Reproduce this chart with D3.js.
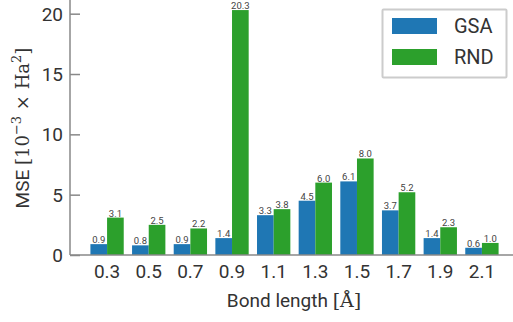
<!DOCTYPE html>
<html>
<head>
<meta charset="utf-8">
<script src="https://cdn.jsdelivr.net/npm/d3@7"></script>
<style>
  body { margin: 0; background: #fff; }
  svg { display: block; }
  .sans { font-family: Roboto, "DejaVu Sans", sans-serif; }
  .serif { font-family: "DejaVu Serif", serif; }
</style>
</head>
<body>
<div id="chart"></div>
<script>
const width = 513;
const height = 322;

// data
const bondLengths = ["0.3", "0.5", "0.7", "0.9", "1.1", "1.3", "1.5", "1.7", "1.9", "2.1"];
const gsa = [0.9, 0.8, 0.9, 1.4, 3.3, 4.5, 6.1, 3.7, 1.4, 0.6];
const rnd = [3.1, 2.5, 2.2, 20.3, 3.8, 6.0, 8.0, 5.2, 2.3, 1.0];
const yTicks = [0, 5, 10, 15, 20];
const seriesNames = ["GSA", "RND"];
const colors = ["#1f77b4", "#2ca02c"];

const svg = d3.select("#chart").append("svg")
    .attr("width", width)
    .attr("height", height);

const x = d3.scaleLinear().domain([-0.89, 9.89]).range([70, 519]);
const y = d3.scaleLinear().domain([0, 21.3]).range([255, -2]);
const barW = 0.4;
const axisColor = "#888";

// bars
const series = [gsa, rnd];
series.forEach((vals, s) => {
    const g = svg.append("g");
    const off = s === 0 ? -barW : 0;
    g.selectAll("rect")
        .data(vals)
        .join("rect")
        .attr("x", (d, i) => x(i + off))
        .attr("width", x(barW) - x(0))
        .attr("y", d => y(d))
        .attr("height", d => y(0) - y(d))
        .attr("fill", colors[s]);
    g.selectAll("text")
        .data(vals)
        .join("text")
        .attr("class", "sans")
        .attr("x", (d, i) => x(i + off + barW / 2))
        .attr("y", d => y(d) - 1)
        .attr("text-anchor", "middle")
        .attr("font-size", 9.5)
        .attr("fill", "#444")
        .text(d => d.toFixed(1));
});

// y axis
const yAxis = svg.append("g")
    .attr("transform", `translate(${x.range()[0]},0)`)
    .call(d3.axisRight(y).tickValues(yTicks).tickSize(10).tickFormat(""));
yAxis.select(".domain").attr("stroke", axisColor).attr("stroke-width", 1.5)
    .attr("d", `M0,${y(0)}V${-2}`);
yAxis.selectAll(".tick line").attr("stroke", axisColor).attr("stroke-width", 1.5);

svg.append("g").selectAll("text")
    .data(yTicks)
    .join("text")
    .attr("class", "sans")
    .attr("x", 63)
    .attr("y", d => y(d) + 7)
    .attr("text-anchor", "end")
    .attr("font-size", 19)
    .attr("fill", "#333")
    .text(d => d);

// x axis
svg.append("line")
    .attr("x1", x.range()[0]).attr("x2", width)
    .attr("y1", y(0)).attr("y2", y(0))
    .attr("stroke", axisColor).attr("stroke-width", 1.5);

svg.append("g").selectAll("text")
    .data(bondLengths)
    .join("text")
    .attr("class", "sans")
    .attr("x", (d, i) => x(i))
    .attr("y", 278)
    .attr("text-anchor", "middle")
    .attr("font-size", 19)
    .attr("fill", "#333")
    .text(d => d);

// axis labels
const xl = svg.append("text")
    .attr("x", 294)
    .attr("y", 307)
    .attr("text-anchor", "middle")
    .attr("font-size", 19)
    .attr("fill", "#333");
xl.append("tspan").attr("class", "sans").text("Bond length ");
xl.append("tspan").attr("class", "serif").text("[Å]");

const yl = svg.append("text")
    .attr("transform", "translate(29,128) rotate(-90)")
    .attr("text-anchor", "middle")
    .attr("font-size", 18)
    .attr("fill", "#333");
yl.append("tspan").attr("class", "sans").attr("font-size", 19).text("MSE ");
yl.append("tspan").attr("class", "serif").text("[10");
yl.append("tspan").attr("class", "serif").attr("font-size", 13).attr("dy", -8).text("−3");
yl.append("tspan").attr("class", "serif").attr("dy", 8).text(" × Ha");
yl.append("tspan").attr("class", "serif").attr("font-size", 13).attr("dy", -8).text("2");
yl.append("tspan").attr("class", "serif").attr("dy", 8).text("]");

// legend
const legend = svg.append("g");
legend.append("rect")
    .attr("x", 382.5).attr("y", 9.5)
    .attr("width", 124).attr("height", 68)
    .attr("fill", "#fff")
    .attr("stroke", "#ccc").attr("stroke-width", 2)
    .attr("rx", 1);
seriesNames.forEach((name, i) => {
    legend.append("rect")
        .attr("x", 392).attr("y", 18 + i * 31)
        .attr("width", 45).attr("height", 16)
        .attr("fill", colors[i]);
    legend.append("text")
        .attr("class", "sans")
        .attr("x", 454).attr("y", 33 + i * 31)
        .attr("font-size", 20)
        .attr("fill", "#333")
        .text(name);
});
</script>
</body>
</html>
